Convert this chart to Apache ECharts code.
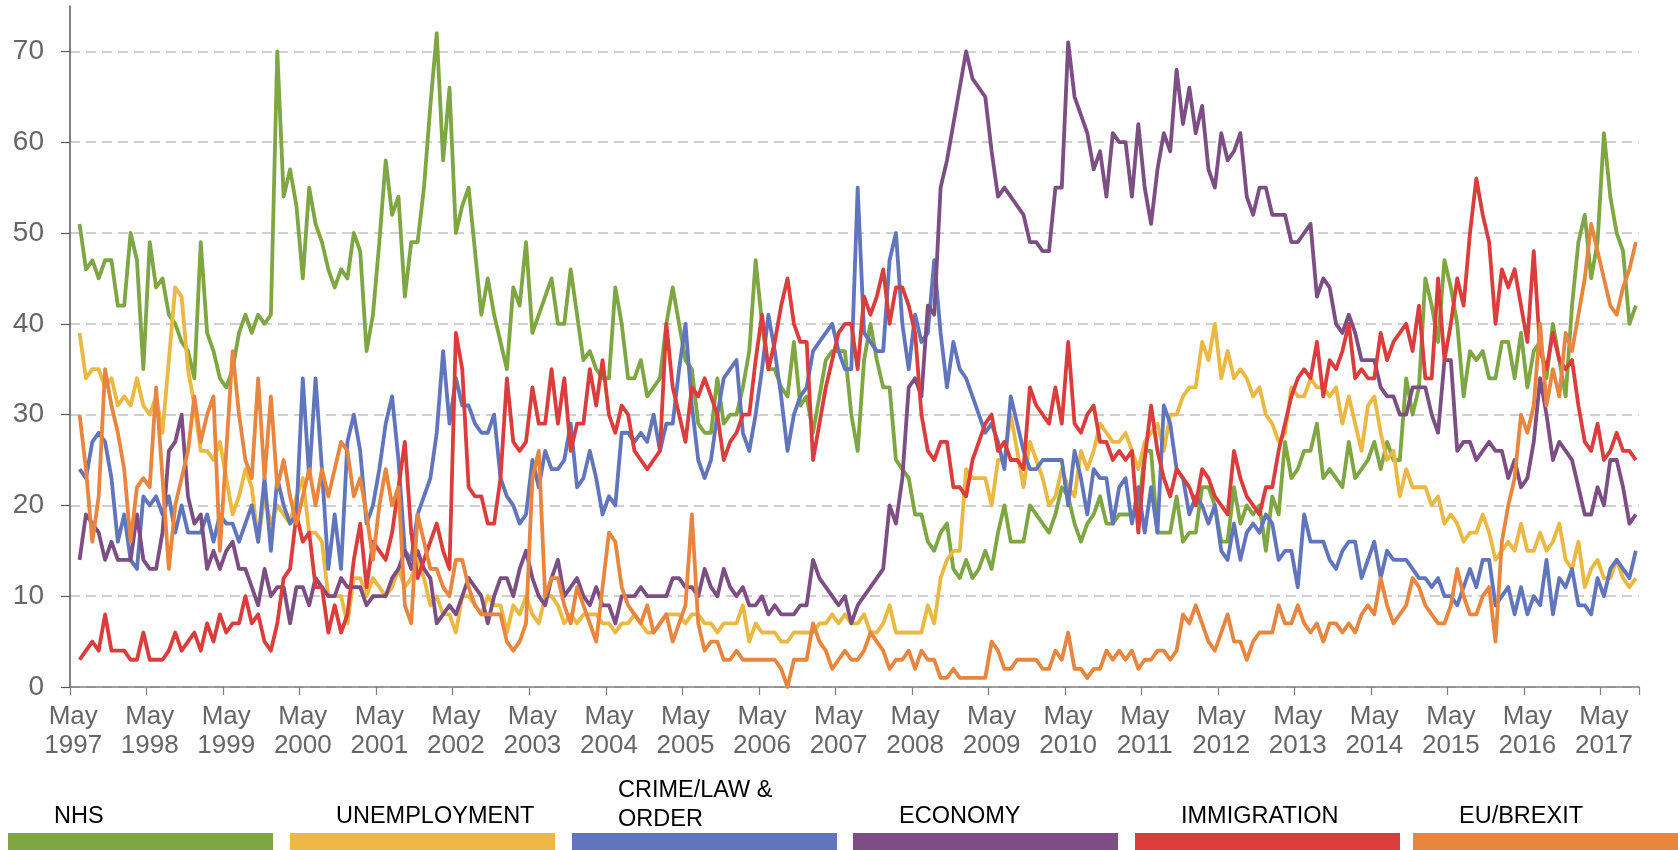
<!DOCTYPE html>
<html>
<head>
<meta charset="utf-8">
<script src="https://cdn.jsdelivr.net/npm/echarts@6/dist/echarts.min.js"></script>
<style>
html,body{margin:0;padding:0;background:#fff;}
#chart{width:1678px;height:850px;}
</style>
</head>
<body>
<div id="chart"></div>
<script>
// ---- categories: monthly, May 1997 .. Oct 2017 ----
const monthNames = ['Jan','Feb','Mar','Apr','May','Jun','Jul','Aug','Sep','Oct','Nov','Dec'];
const categories = [];
for (let k = 0; k < 246; k++) {
  const mi = (4 + k) % 12;
  const yr = 1997 + Math.floor((4 + k) / 12);
  categories.push(monthNames[mi] + ' ' + yr);
}
const yTicks = [0, 10, 20, 30, 40, 50, 60, 70];

const seriesNames = ['NHS', 'UNEMPLOYMENT', 'CRIME/LAW & ORDER', 'ECONOMY', 'IMMIGRATION', 'EU/BREXIT'];
const legendLabels = ['NHS', 'UNEMPLOYMENT', 'CRIME/LAW &\nORDER', 'ECONOMY', 'IMMIGRATION', 'EU/BREXIT'];
const seriesColors = ['#7ea642', '#ebb843', '#6075bb', '#7c4e84', '#da3d3c', '#e8853f'];

// values from Jun 1997 (index 1); May 1997 has no point
const nhs = [null,
51,46,47,45,47,47,42,42,50,47,
35,49,44,45,41,40,38,37,34,49,
39,37,34,33,35,39,41,39,41,40,
41,70,54,57,53,45,55,51,49,46,
44,46,45,50,48,37,41,49,58,52,
54,43,49,49,55,64,72,58,66,50,
53,55,48,41,45,41,38,35,44,42,
49,39,41,43,45,40,40,46,41,36,
37,35,34,34,44,40,34,34,36,32,
33,34,40,44,40,36,35,29,28,28,
34,29,30,30,33,37,47,40,35,35,
33,32,38,31,32,28,32,36,37,37,
37,30,26,36,40,36,33,33,25,24,
23,19,19,16,15,17,18,13,12,14,
12,13,15,13,17,20,16,16,16,20,
19,18,17,19,22,21,18,16,18,19,
21,18,18,19,19,19,19,26,26,17,
17,17,21,16,17,17,22,22,20,16,
16,22,18,20,19,20,15,21,19,27,
23,24,26,26,29,23,24,23,22,27,
23,24,25,27,24,27,25,25,34,30,
33,45,42,38,47,44,40,32,37,36,
37,34,34,38,38,34,39,33,37,38,
34,40,36,32,42,49,52,45,49,61,
54,50,48,40,42];

const unemployment = [null,
39,34,35,35,33,34,31,32,31,34,
31,30,32,28,36,44,43,35,31,26,
26,25,27,23,19,21,24,22,16,21,
18,20,19,18,21,23,17,17,16,10,
10,10,7,12,12,10,12,11,10,11,
13,11,12,14,12,9,10,8,8,6,
10,10,9,8,10,9,9,6,9,8,
10,8,7,10,10,9,7,8,7,8,
8,8,7,7,6,7,7,8,7,6,
6,7,8,8,8,7,8,8,7,7,
6,7,7,7,9,5,7,6,6,6,
5,5,6,6,6,6,7,7,8,7,
8,7,7,8,6,6,7,9,6,6,
6,6,6,9,7,12,14,15,15,24,
23,23,23,20,25,25,30,26,22,27,
25,23,20,21,24,22,21,26,24,26,
29,28,27,27,28,26,24,27,28,29,
26,30,30,32,33,33,38,36,40,34,
37,34,35,34,32,33,30,29,27,28,
33,32,32,34,33,33,32,33,29,32,
29,26,31,32,28,25,26,21,24,22,
22,22,20,21,18,19,18,16,17,17,
19,17,14,15,16,15,18,15,15,17,
15,16,18,14,13,16,11,13,14,12,
12,14,12,11,12];

const crime = [null,
24,23,27,28,27,23,16,19,14,13,
21,20,21,19,21,17,20,17,17,17,
19,16,19,18,18,16,18,20,16,23,
15,23,20,18,19,34,23,34,24,13,
19,13,27,30,26,18,20,24,29,32,
25,15,14,19,21,23,28,37,29,34,
31,31,29,28,28,30,23,21,20,18,
19,25,22,26,24,24,25,29,22,23,
26,23,19,21,20,28,28,27,28,27,
30,26,29,29,35,40,31,25,23,25,
30,34,35,36,28,26,30,35,41,37,
32,26,30,32,33,37,38,39,40,37,
35,35,55,39,38,37,37,47,50,40,
35,41,38,39,47,39,33,38,35,34,
32,30,28,29,27,24,32,29,26,24,
24,25,25,25,25,20,26,23,19,24,
23,23,18,22,23,18,22,17,22,17,
31,29,24,23,19,21,20,18,20,15,
14,18,14,17,18,17,19,18,14,15,
15,11,19,16,16,16,14,13,15,16,
16,12,14,16,12,15,14,14,14,13,
12,12,11,12,10,10,9,11,13,11,
14,14,9,10,11,8,11,8,10,9,
14,8,12,11,13,9,9,8,12,10,
13,14,13,12,15];

const economy = [null,
14,19,18,17,14,16,14,14,14,19,
14,13,13,17,26,27,30,21,18,19,
13,15,13,15,16,13,13,11,9,13,
10,11,11,7,11,11,9,12,11,10,
10,12,11,11,11,9,10,10,10,12,
13,15,13,15,13,12,7,8,9,8,
10,12,11,10,7,10,12,12,10,13,
15,12,10,9,12,14,10,11,12,10,
9,11,9,9,7,10,10,10,11,10,
10,10,10,12,12,11,11,10,13,11,
10,13,11,10,11,9,9,10,8,9,
8,8,8,9,9,14,12,11,10,9,
10,7,9,10,11,12,13,20,18,23,
33,34,32,42,41,55,58,62,66,70,
67,66,65,59,54,55,54,53,52,49,
49,48,48,55,55,71,65,63,61,57,
59,54,61,60,60,54,62,55,51,57,
61,59,68,62,66,61,64,57,55,61,
58,59,61,54,52,55,55,52,52,52,
49,49,50,51,43,45,44,40,39,41,
39,36,36,36,33,32,32,30,30,33,
33,33,30,28,36,36,26,27,27,25,
26,27,26,26,23,25,22,23,27,34,
30,25,27,26,25,22,19,19,22,20,
25,25,22,18,19];

const immigration = [null,
3,4,5,4,8,4,4,4,3,3,
6,3,3,3,4,6,4,5,6,4,
7,5,8,6,7,7,10,7,8,5,
4,7,12,13,19,16,17,11,11,6,
9,6,8,14,18,11,16,15,14,17,
22,27,17,12,14,16,18,15,13,39,
35,22,21,21,18,18,23,34,27,26,
27,33,29,29,35,29,34,26,29,29,
35,31,36,30,28,31,30,26,25,24,
25,26,40,33,30,27,33,32,34,32,
30,25,27,28,30,30,36,41,35,38,
42,45,40,38,38,25,29,33,36,39,
40,40,35,43,41,43,46,40,44,44,
42,39,30,26,25,27,27,22,22,21,
25,27,29,30,26,27,25,25,24,33,
31,30,29,33,29,38,29,28,30,31,
27,27,25,26,25,26,17,25,31,26,
23,21,24,23,22,20,24,23,21,20,
19,26,23,21,20,19,22,22,26,29,
32,34,35,34,38,32,36,35,37,40,
34,35,34,34,39,36,38,39,40,37,
42,34,34,45,36,40,45,42,50,56,
52,49,40,46,44,46,42,38,48,37,
35,39,36,35,36,31,27,26,29,25,
26,28,26,26,25];

const euBrexit = [null,
30,24,16,21,35,31,28,24,16,22,
23,22,33,23,13,20,23,26,32,27,
30,32,15,26,37,30,25,23,34,23,
32,22,25,21,18,21,24,20,24,21,
24,27,26,21,23,19,14,20,24,20,
22,9,7,19,16,13,13,11,10,14,
14,11,9,8,8,8,8,5,4,5,
7,23,26,10,12,12,9,7,11,9,
7,5,11,17,16,11,9,8,7,9,
6,7,8,5,7,9,19,7,4,5,
5,3,3,4,3,3,3,3,3,3,
2,0,3,3,3,7,5,4,2,3,
4,3,3,4,6,5,4,2,3,3,
4,2,4,3,3,1,1,2,1,1,
1,1,1,5,4,2,2,3,3,3,
3,2,2,4,3,6,2,2,1,2,
2,4,3,4,3,4,2,3,3,4,
4,3,4,8,7,9,7,5,4,6,
8,5,5,3,5,6,6,6,9,7,
7,9,7,6,7,5,7,7,6,7,
6,8,9,8,12,9,7,8,9,12,
11,9,8,7,7,9,13,10,8,8,
10,11,5,16,20,23,30,28,31,40,
31,35,32,39,37,41,45,51,48,45,
42,41,44,46,49];

const seriesData = [nhs, unemployment, crime, economy, immigration, euBrexit];

const chart = echarts.init(document.getElementById('chart'), null, {renderer: 'canvas'});

const FONT = "'Liberation Sans', Arial, sans-serif";

// legend drawn as coloured bars with captions above
const legendGraphics = [];
const barLeft = [8, 290, 572, 853, 1135, 1413];
seriesNames.forEach((n, i) => {
  legendGraphics.push({
    type: 'rect', left: barLeft[i], top: 833,
    shape: {width: 265, height: 20},
    style: {fill: seriesColors[i]}
  });
  const twoLine = legendLabels[i].indexOf('\n') >= 0;
  legendGraphics.push({
    type: 'text', left: barLeft[i] + 46, top: twoLine ? 776 : 802,
    style: {text: legendLabels[i], font: "23.5px " + FONT, fill: '#000', lineHeight: 29}
  });
});

const option = {
  animation: false,
  backgroundColor: '#fff',
  grid: {left: 70, right: 39, top: 6, bottom: 163, containLabel: false},
  xAxis: {
    type: 'category',
    data: categories,
    boundaryGap: true,
    axisLine: {show: true, lineStyle: {color: '#7f7f7f', width: 1.5}},
    axisTick: {show: true, interval: 11, length: 8, lineStyle: {color: '#7f7f7f', width: 1.2}},
    axisLabel: {
      interval: 11, fontSize: 26, lineHeight: 29, color: '#666666', margin: 15,
      fontFamily: FONT,
      formatter: v => v.replace(' ', '\n')
    },
    splitLine: {show: false}
  },
  yAxis: {
    type: 'value', min: 0, max: 75, interval: 10,
    axisLine: {show: true, lineStyle: {color: '#595959', width: 1.5}},
    axisTick: {show: true, length: 9, lineStyle: {color: '#595959', width: 1.2}, customValues: yTicks},
    axisLabel: {fontSize: 28, color: '#666666', margin: 26, fontFamily: FONT, customValues: yTicks},
    splitLine: {show: true, lineStyle: {color: '#c0c0c0', type: [10, 6], width: 1.5}}
  },
  series: seriesNames.map((n, i) => ({
    name: n,
    type: 'line',
    data: seriesData[i],
    symbol: 'none',
    connectNulls: true,
    lineStyle: {color: seriesColors[i], width: 3.8, join: 'round'},
    itemStyle: {color: seriesColors[i]},
    z: 2 + i
  })),
  graphic: legendGraphics
};

chart.setOption(option);
</script>
</body>
</html>
